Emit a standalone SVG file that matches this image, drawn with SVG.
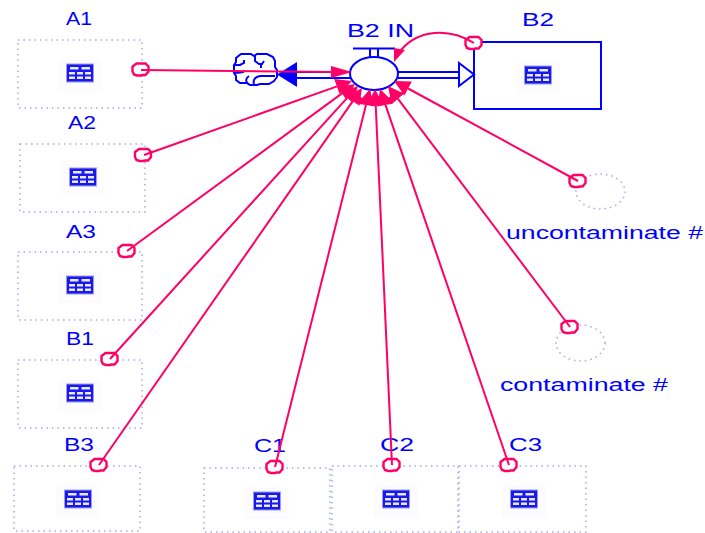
<svg xmlns="http://www.w3.org/2000/svg" width="705" height="533" viewBox="0 0 705 533">
<style>
text{font-family:"Liberation Sans",Arial,sans-serif;font-size:17.5px;fill:#0000ff}
.d{fill:none;stroke:#a8a8f4;stroke-width:1.5;stroke-dasharray:1.5 4}
.c{fill:none;stroke:#ff0066;stroke-width:2}
.o{fill:#fff;stroke:#ff0066;stroke-width:2.4}
.b{fill:none;stroke:#0000ff;stroke-width:2}
.h{fill:#ff0066;stroke:none}
.g{fill:#1a1ae8;stroke:#9c9cf4;stroke-width:1}
.l{fill:#e8e8ff}
.halo{fill:#fcfcff}
</style>
<defs>
<g id="grid">
<rect x="-22" y="-14" width="44" height="32" class="halo"/>
<rect x="-13.500" y="-9" width="27" height="18" class="g"/>
<rect x="-10" y="-6" width="8.500" height="2.500" class="l"/><rect x="1.500" y="-6" width="8.500" height="2.500" class="l"/>
<rect x="-11" y="-1" width="6" height="2.500" class="l"/><rect x="-3" y="-1" width="6" height="2.500" class="l"/><rect x="5" y="-1" width="6" height="2.500" class="l"/>
<rect x="-11" y="3.500" width="6" height="2.500" class="l"/><rect x="-3" y="3.500" width="6" height="2.500" class="l"/><rect x="5" y="3.500" width="6" height="2.500" class="l"/>
</g>
<path id="mark" class="o" d="M-4.500-6h9l3 3v5l-3 3.500h-3l-1.500 .500h-4l-3-1-1.500-3v-5z"/>
</defs>
<g id="node-A1"><rect class="d" x="18" y="40" width="124" height="68"/><use href="#grid" x="80" y="73"/><text x="66" y="25" textLength="26" lengthAdjust="spacingAndGlyphs">A1</text></g>
<g id="node-A2"><rect class="d" x="20" y="144" width="125" height="68"/><use href="#grid" x="83" y="177"/><text x="68" y="129" textLength="28" lengthAdjust="spacingAndGlyphs">A2</text></g>
<g id="node-A3"><rect class="d" x="18" y="252" width="124" height="68"/><use href="#grid" x="80" y="285"/><text x="66" y="238" textLength="30" lengthAdjust="spacingAndGlyphs">A3</text></g>
<g id="node-B1"><rect class="d" x="18" y="360" width="124" height="68"/><use href="#grid" x="80" y="393"/><text x="66" y="345" textLength="28" lengthAdjust="spacingAndGlyphs">B1</text></g>
<g id="node-B3"><rect class="d" x="14" y="466" width="126" height="65"/><use href="#grid" x="78" y="499"/><text x="64" y="451" textLength="30" lengthAdjust="spacingAndGlyphs">B3</text></g>
<g id="node-C1"><rect class="d" x="204" y="468" width="126" height="64"/><use href="#grid" x="267" y="501"/><text x="254" y="452" textLength="32" lengthAdjust="spacingAndGlyphs">C1</text></g>
<g id="node-C2"><rect class="d" x="332" y="466" width="126" height="66"/><use href="#grid" x="396" y="499"/><text x="380" y="451" textLength="34" lengthAdjust="spacingAndGlyphs">C2</text></g>
<g id="node-C3"><rect class="d" x="459" y="466" width="127" height="66"/><use href="#grid" x="524" y="499"/><text x="509" y="451" textLength="33" lengthAdjust="spacingAndGlyphs">C3</text></g>
<g id="node-B2"><rect x="474" y="42" width="127" height="67" fill="#fff" stroke="#0000ff" stroke-width="2"/><use href="#grid" x="538" y="75"/><text x="522" y="26" textLength="32" lengthAdjust="spacingAndGlyphs">B2</text></g>
<g id="node-uncontaminate"><ellipse class="d" cx="600.500" cy="191.500" rx="24.500" ry="17.500"/><text x="506" y="239" textLength="197" lengthAdjust="spacingAndGlyphs">uncontaminate #</text></g>
<g id="node-contaminate"><ellipse class="d" cx="580.500" cy="343" rx="24.500" ry="18"/><text x="500" y="391" textLength="168" lengthAdjust="spacingAndGlyphs">contaminate #</text></g>
<g id="node-cloud"><path class="b" stroke-width="1.800" d="M241 54h10l3 2 3-2h10l6 3 2 4v6l2 3v7l-3 4-5 3h-9l-3 1h-7l-3-2h-7l-4-3v-4l-2-3v-8l2-3v-4zM235 65h5l4-2v-3M255 56v5l4 3h3l2-3M261 64v4M234 73c5 0 8 0 11-2M248 84c-3-3-2-6 1-8M254 84c-1-3 0-7 6-8h15"/></g>
<g id="node-B2-IN">
<path class="b" d="M353 48.500h42" stroke-width="2.500"/>
<path class="b" d="M370 49v8M378 49v8" stroke-width="1.800"/>
<ellipse cx="374" cy="73.500" rx="24" ry="16.500" fill="#fff" stroke="#0000ff" stroke-width="2"/>
<text x="347" y="37" textLength="67" lengthAdjust="spacingAndGlyphs">B2 IN</text>
</g>
<g id="connectors">
<path class="b" d="M296 72H351M296 78H351"/>
<path d="M277 74.500l20-12.500v25z" fill="#0000ff"/>
<path class="b" d="M398 72H459M398 78H459M459 63v23l15-11.500-15-11.500z" fill="#fff"/>
<use href="#mark" x="141" y="69.500"/><use href="#mark" x="143.500" y="155"/><use href="#mark" x="127" y="251"/><use href="#mark" x="110" y="359"/><use href="#mark" x="99" y="465"/><use href="#mark" x="275" y="467"/><use href="#mark" x="392" y="465"/><use href="#mark" x="509" y="465"/><use href="#mark" x="474" y="43"/><use href="#mark" x="578" y="181"/><use href="#mark" x="570" y="327"/>
<path class="c" d="M141 70L335 72"/><path class="h" d="M352 72l-21-6v12z"/>
<path class="c" d="M474 43C448 27 418 30 401 50"/><path class="h" d="M394 62v-14l11 2z"/>
<path class="c" d="M144 155L337 86.400"/><path class="h" d="M352 81L339.600 93.900 334.200 78.900z"/>
<path class="c" d="M127 251L342 93.400"/><path class="h" d="M355 84L346.700 99.900 337.300 86.900z"/>
<path class="c" d="M110 359L347.200 97.800"/><path class="h" d="M358 86L353.100 103.200 341.300 92.400z"/>
<path class="c" d="M99 465L352.800 101.100"/><path class="h" d="M362 88L359.400 105.700 346.200 96.500z"/>
<path class="c" d="M275 467L366.100 104.500"/><path class="h" d="M370 89L373.900 106.500 358.300 102.500z"/>
<path class="c" d="M392 465L375.700 105"/><path class="h" d="M375 89L383.700 105.400 367.700 104.600z"/>
<path class="c" d="M509 465L385.200 104.100"/><path class="h" d="M380 89L392.800 101.500 377.600 106.700z"/>
<path class="c" d="M570 327L397.800 98.700"/><path class="h" d="M388 86L404.100 93.800 391.500 103.600z"/>
<path class="c" d="M578 181L408.100 88.500"/><path class="h" d="M394 81L411.800 81.400 404.400 95.600z"/>
<path class="h" d="M344 92L358 104 375 106 392 104 405 92 397 92 388 98 375 100 362 98 352 91z"/>
</g>
</svg>
